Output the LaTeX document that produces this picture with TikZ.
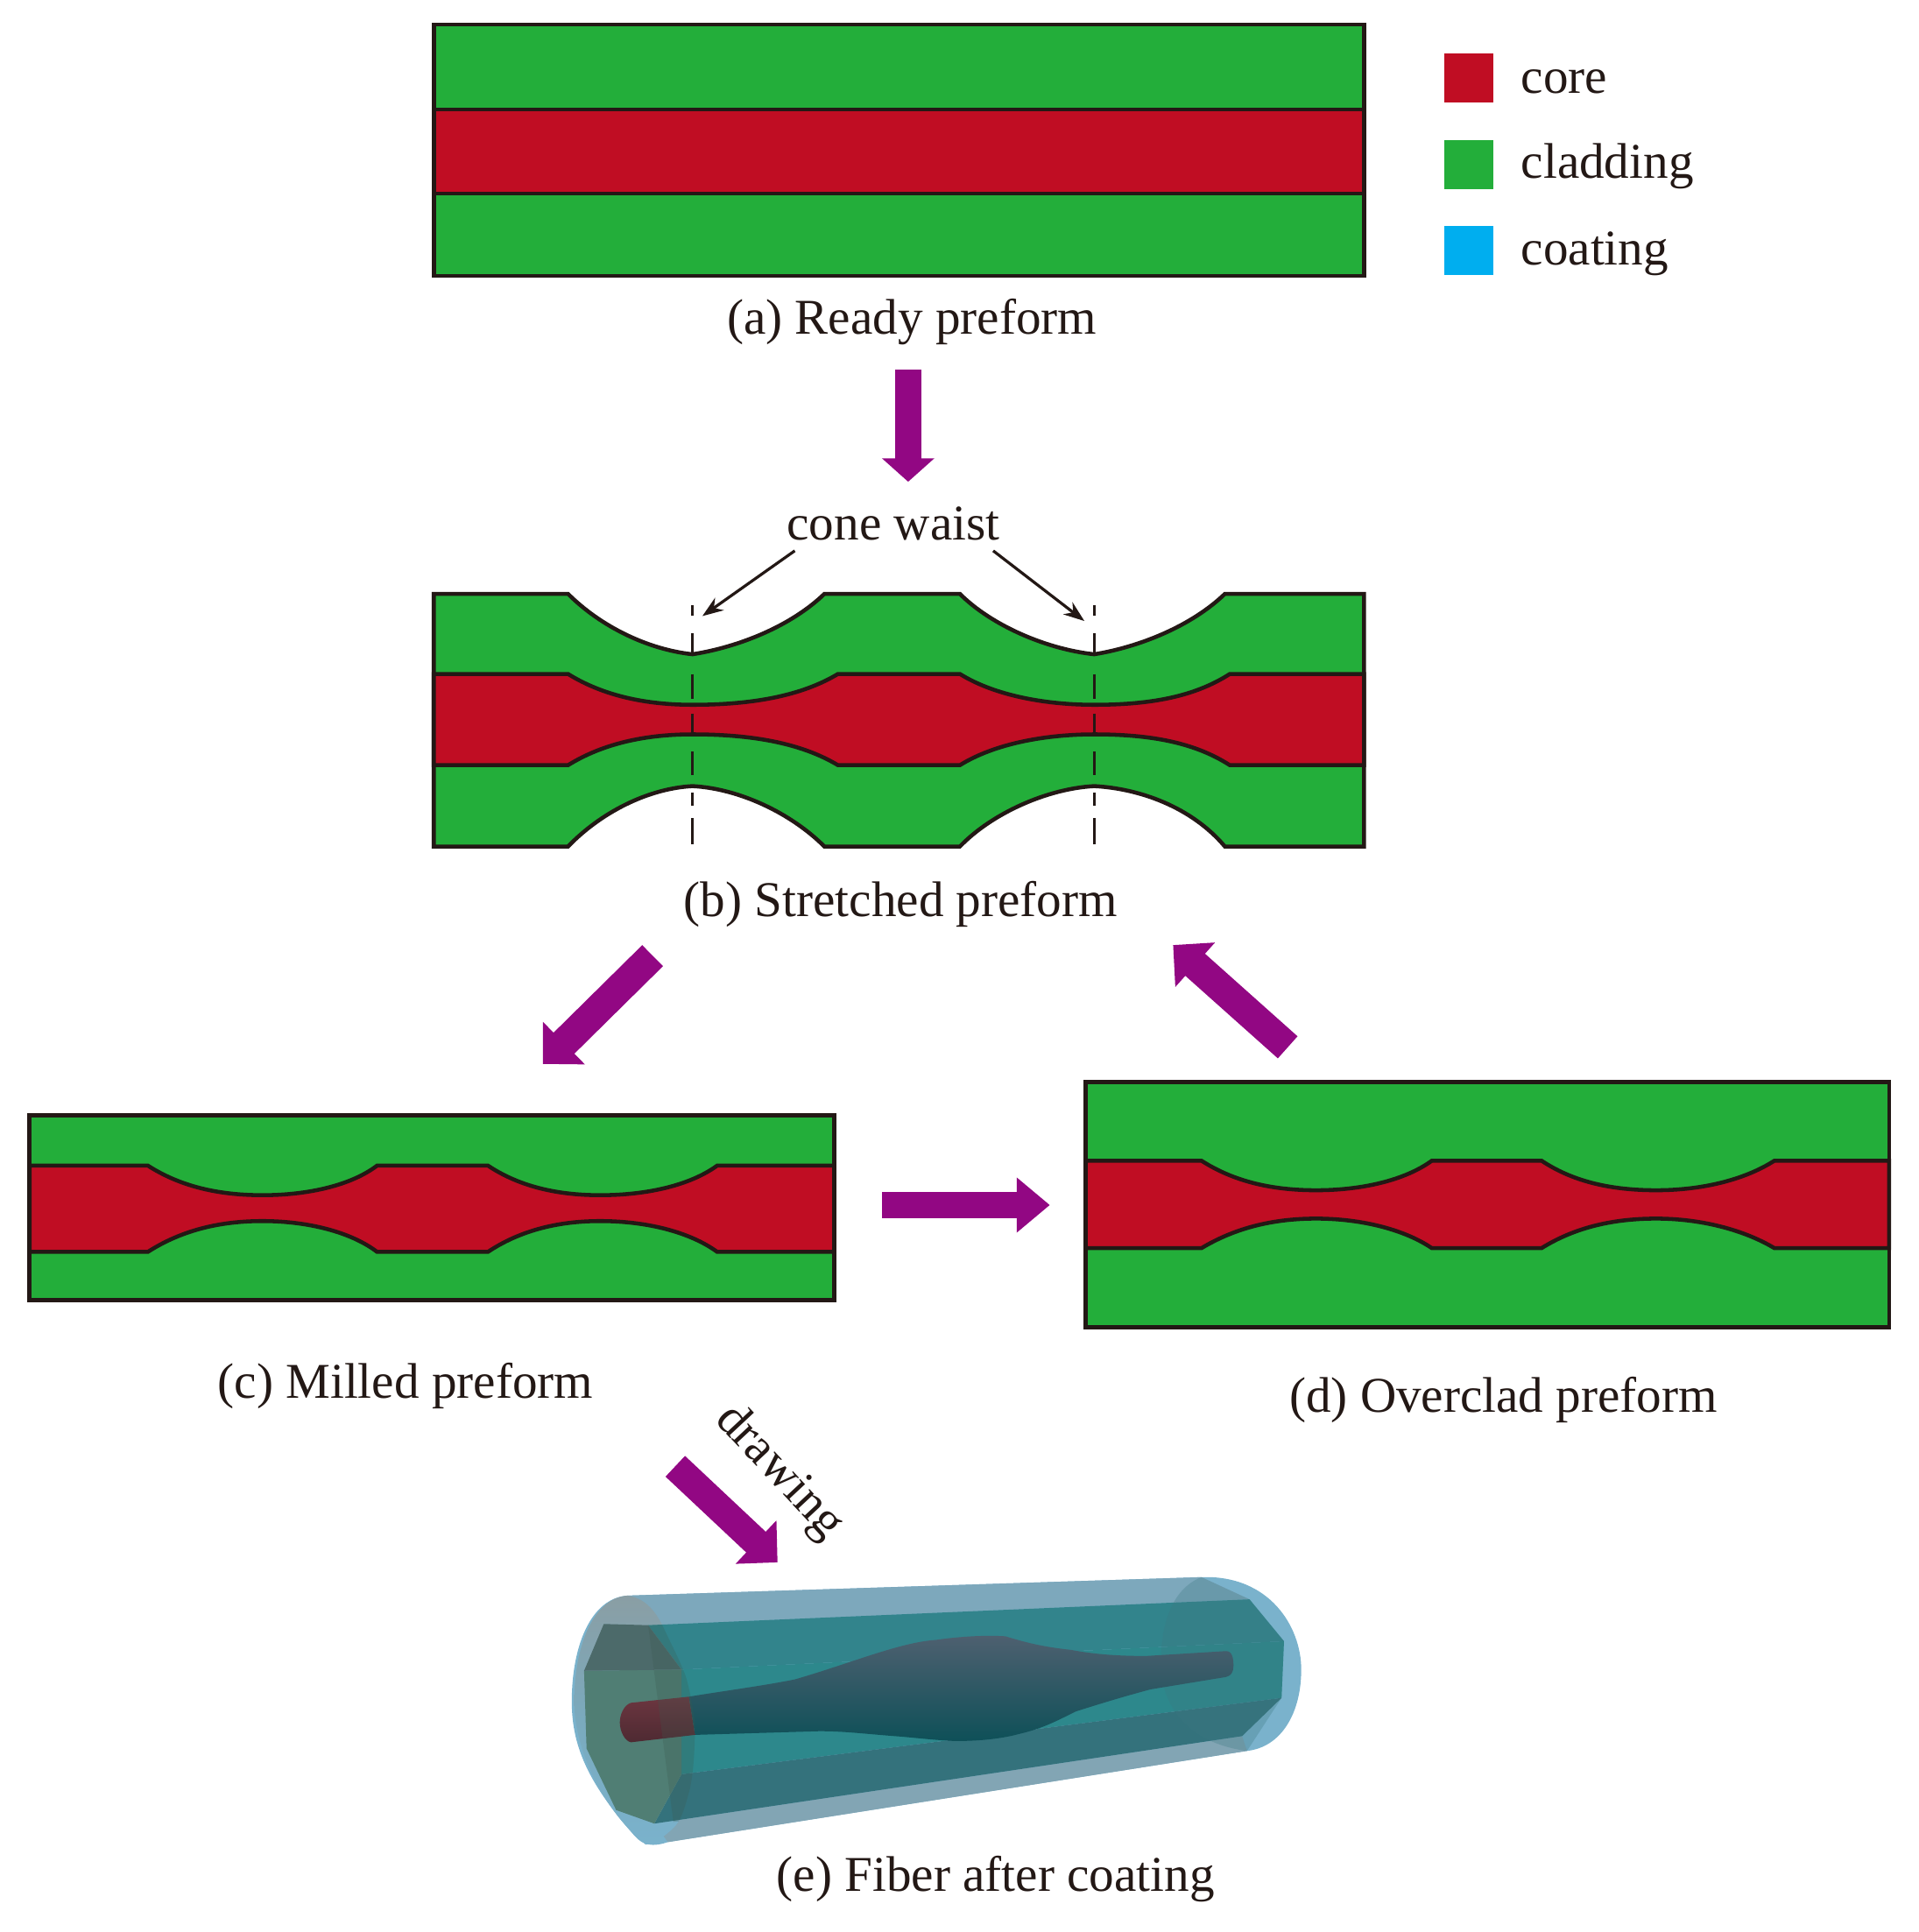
\documentclass[tikz,border=0pt]{standalone}
\usepackage{fontspec}
\setmainfont{Liberation Serif}
\usetikzlibrary{arrows.meta}
\definecolor{coreRed}{HTML}{C00D23}
\definecolor{cladGreen}{HTML}{23AE3A}
\definecolor{coatBlue}{HTML}{00AEEF}
\definecolor{arrowPurple}{HTML}{920783}
\definecolor{inkLine}{HTML}{231815}
\tikzset{
  outline/.style={draw=inkLine,line width=2.1pt,line join=miter},
  thinline/.style={draw=inkLine,line width=1.5pt},
  waistdash/.style={thinline,dash pattern=on 5.85pt off 9.1pt on 11.7pt off 9.75pt on 13pt off 7.8pt on 10.4pt off 9.75pt on 12.35pt off 9.1pt on 7.15pt off 6.5pt on 13.65pt off 9pt},
  blockarrow/.style n args={3}{draw=arrowPurple,line width=#1,-{Triangle[length=#2,width=#3,fill=arrowPurple]}},
  caption/.style={inner sep=0.75pt,text=inkLine,font=\fontsize{26.4}{30}\selectfont},
  swatch/.style={minimum size=26pt,inner sep=0pt},
}
\begin{document}
\begin{tikzpicture}[x=0.65pt,y=0.65pt,yscale=-1,xscale=1]
\useasboundingbox (0,0) rectangle (1557,1568);

%Ready preform
\fill [cladGreen] (352,20) rectangle (1107,224);
\draw [outline,fill=coreRed] (352,89) rectangle (1107,157);
\draw [outline] (352,20) rectangle (1107,224);

%Stretched preform cladding
\draw [outline,fill=cladGreen] (352,482) -- (461,482) .. controls (487,508) and (525,527) .. (562,531) .. controls (600,525) and (642,508) .. (669,482) -- (779,482) .. controls (805,508) and (850,527) .. (888,531) .. controls (925,525) and (967,508) .. (994,482) -- (1107,482) -- (1107,687) -- (994,687) .. controls (967,655) and (925,640) .. (888,638) .. controls (850,640) and (805,660) .. (779,687) -- (669,687) .. controls (642,660) and (600,640) .. (562,638) .. controls (525,640) and (487,660) .. (461,687) -- (352,687) -- cycle ;
%Stretched preform core
\draw [outline,fill=coreRed] (352,547) -- (461,547) .. controls (490,565) and (525,572) .. (562,572) .. controls (610,572) and (650,565) .. (680,547) -- (779,547) .. controls (808,565) and (850,572) .. (888,572) .. controls (935,572) and (970,565) .. (998,547) -- (1107,547) -- (1107,621) -- (998,621) .. controls (970,603) and (935,596) .. (888,596) .. controls (850,596) and (808,603) .. (779,621) -- (680,621) .. controls (650,603) and (610,596) .. (562,596) .. controls (525,596) and (490,603) .. (461,621) -- (352,621) -- cycle ;
%Waist lines
\coordinate (waistTopA) at (562,491);
\coordinate (waistBotA) at (562,685);
\coordinate (waistTopB) at (888,491);
\coordinate (waistBotB) at (888,685);
\draw [waistdash] (waistTopA) -- (waistBotA) ;
\draw [waistdash] (waistTopB) -- (waistBotB) ;

%Milled preform
\fill [cladGreen] (24,905) rectangle (677,1055);
\draw [outline,fill=coreRed] (24,946) -- (120,946) .. controls (145,962) and (175,970) .. (213,970) .. controls (250,970) and (285,962) .. (306,946) -- (396,946) .. controls (420,962) and (450,970) .. (487,970) .. controls (525,970) and (560,962) .. (582,946) -- (677,946) -- (677,1016) -- (582,1016) .. controls (560,1000) and (525,991) .. (487,991) .. controls (450,991) and (420,1000) .. (396,1016) -- (306,1016) .. controls (285,1000) and (250,991) .. (213,991) .. controls (175,991) and (145,1000) .. (120,1016) -- (24,1016) -- cycle ;
\draw [outline] (24,905) rectangle (677,1055);

%Overclad preform
\fill [cladGreen] (881,878) rectangle (1533,1077);
\draw [outline,fill=coreRed] (881,942) -- (975,942) .. controls (1000,958) and (1030,966) .. (1068,966) .. controls (1105,966) and (1140,958) .. (1162,942) -- (1251,942) .. controls (1275,958) and (1305,966) .. (1344,966) .. controls (1380,966) and (1415,958) .. (1440,942) -- (1533,942) -- (1533,1013) -- (1440,1013) .. controls (1415,998) and (1380,989) .. (1344,989) .. controls (1305,989) and (1275,998) .. (1251,1013) -- (1162,1013) .. controls (1140,998) and (1105,989) .. (1068,989) .. controls (1030,989) and (1000,998) .. (975,1013) -- (881,1013) -- cycle ;
\draw [outline] (881,878) rectangle (1533,1077);

%Fiber coating
\fill [color={rgb, 255:red, 122; green, 178; blue, 204 }] (509,1295) -- (975,1280) .. controls (1030,1278) and (1056,1320) .. (1056,1355) .. controls (1056,1390) and (1040,1418) .. (1012,1421) -- (542,1495) .. controls (530,1499) and (522,1498) .. (515,1490) .. controls (480,1450) and (464,1420) .. (464,1381) .. controls (464,1335) and (480,1297) .. (509,1295) -- cycle ;
\fill [color={rgb, 255:red, 125; green, 168; blue, 188 }] (509,1295) -- (975,1280) -- (1014,1298) -- (529,1319) -- cycle ;
\fill [color={rgb, 255:red, 130; green, 165; blue, 180 }] (531,1480) -- (1008,1409) -- (1012,1421) -- (542,1495) -- cycle ;
%Fiber near end
\shade [top color={rgb, 255:red, 138; green, 158; blue, 164 },bottom color={rgb, 255:red, 122; green, 178; blue, 204 },middle color={rgb, 255:red, 122; green, 170; blue, 190 }] (509,1295) .. controls (525,1297) and (533,1310) .. (538,1320) .. controls (545,1335) and (553,1350) .. (557,1362) .. controls (562,1380) and (564,1400) .. (564,1398) .. controls (564,1425) and (562,1445) .. (559,1455) .. controls (555,1470) and (552,1478) .. (547,1483) .. controls (540,1490) and (530,1497) .. (524,1497) .. controls (490,1470) and (466,1420) .. (466,1381) .. controls (466,1335) and (482,1297) .. (509,1295) -- cycle ;
%Fiber cladding faces
\fill [color={rgb, 255:red, 50; green, 132; blue, 140 }] (526,1319) -- (1014,1298) -- (1042,1332) -- (553,1355) -- cycle ;
\fill [color={rgb, 255:red, 45; green, 136; blue, 140 }] (553,1355) -- (1042,1332) -- (1040,1378) -- (553,1440) -- cycle ;
\fill [color={rgb, 255:red, 52; green, 114; blue, 124 }] (553,1440) -- (1040,1378) -- (1008,1409) -- (531,1480) -- cycle ;
%Fiber far end
\fill [color={rgb, 255:red, 60; green, 120; blue, 130 },opacity=0.3] (975,1280) .. controls (950,1290) and (942,1320) .. (942,1350) .. controls (942,1385) and (965,1415) .. (1012,1421) -- (1040,1378) -- (1042,1332) -- (1014,1298) -- cycle ;
%Fiber end polygon
\fill [color={rgb, 255:red, 80; green, 126; blue, 116 }] (474,1356) -- (553,1355) -- (553,1440) -- (531,1480) -- (500,1469) -- (476,1419) -- cycle ;
\fill [color={rgb, 255:red, 76; green, 106; blue, 106 }] (490,1318) -- (526,1319) -- (553,1355) -- (474,1356) -- cycle ;
%Fiber core
\shade [top color={rgb, 255:red, 78; green, 96; blue, 112 },bottom color={rgb, 255:red, 14; green, 80; blue, 88 }] (559,1377) .. controls (590,1372) and (620,1368) .. (645,1363) .. controls (690,1350) and (730,1333) .. (759,1331) .. controls (780,1328) and (800,1327) .. (816,1328) .. controls (835,1334) and (850,1337) .. (869,1339) .. controls (890,1343) and (910,1344) .. (930,1344) -- (995,1340) .. controls (1000,1340) and (1001,1346) .. (1001,1352) .. controls (1001,1357) and (999,1360) .. (995,1361) -- (934,1371) .. controls (915,1376) and (895,1382) .. (873,1389) .. controls (855,1398) and (845,1403) .. (828,1407) .. controls (810,1412) and (790,1413) .. (775,1413) .. controls (755,1412) and (740,1410) .. (726,1409) .. controls (700,1407) and (685,1405) .. (665,1405) -- (564,1408) -- cycle ;
\shade [top color={rgb, 255:red, 108; green, 54; blue, 64 },bottom color={rgb, 255:red, 78; green, 42; blue, 50 }] (559,1377) -- (512,1382) .. controls (506,1384) and (503,1392) .. (503,1398) .. controls (503,1405) and (507,1413) .. (512,1414) -- (564,1408) -- cycle ;
%Fiber near end shadow
\begin{scope}
\clip (509,1295) .. controls (525,1297) and (533,1310) .. (538,1320) .. controls (545,1335) and (553,1350) .. (557,1362) .. controls (562,1380) and (564,1400) .. (564,1398) .. controls (564,1425) and (562,1445) .. (559,1455) .. controls (555,1470) and (552,1478) .. (547,1483) -- (526,1319) -- cycle ;
\fill [color={rgb, 255:red, 60; green, 90; blue, 80 },opacity=0.25] (526,1319) -- (600,1316) -- (600,1474) -- (531,1480) -- cycle ;
\end{scope}

%Process arrows
\coordinate (arrowAfrom) at (737,300);
\coordinate (arrowAto) at (737,391);
\coordinate (arrowBfrom) at (529.6,775.6);
\coordinate (arrowBto) at (440.6,863.5);
\coordinate (arrowCfrom) at (716,978);
\coordinate (arrowCto) at (852,978);
\coordinate (arrowDfrom) at (1045,850);
\coordinate (arrowDto) at (952,767);
\coordinate (arrowEfrom) at (548,1190);
\coordinate (arrowEto) at (631,1268);
\draw [blockarrow={14pt}{12.4pt}{27pt}] (arrowAfrom) -- (arrowAto) ;
\draw [blockarrow={15.6pt}{15.6pt}{30.5pt}] (arrowBfrom) -- (arrowBto) ;
\draw [blockarrow={13.7pt}{17.5pt}{28pt}] (arrowCfrom) -- (arrowCto) ;
\draw [blockarrow={15.6pt}{15.6pt}{30.5pt}] (arrowDfrom) -- (arrowDto) ;
\draw [blockarrow={15pt}{15.6pt}{30.5pt}] (arrowEfrom) -- (arrowEto) ;

%Legend
\draw (1192,63.5) node (swCore) [swatch,fill=coreRed] {};
\draw (1192,133.5) node (swCladding) [swatch,fill=cladGreen] {};
\draw (1192,203.5) node (swCoating) [swatch,fill=coatBlue] {};

% Text Node
\draw (1233,66) node (txtCore) [caption,anchor=west] {core};
% Text Node
\draw (1233,135) node (txtCladding) [caption,anchor=west] {cladding};
% Text Node
\draw (1233,206) node (txtCoating) [caption,anchor=west] {coating};
% Text Node
\draw (740,261.5) node (capA) [caption] {(a) Ready preform};
% Text Node
\draw (725,425) node (txtWaist) [caption] {cone waist};
% Text Node
\draw (731,734) node (capB) [caption] {(b) Stretched preform};
% Text Node
\draw (329,1124.5) node (capC) [caption] {(c) Milled preform};
% Text Node
\draw (1220,1136.5) node (capD) [caption] {(d) Overclad preform};
% Text Node
\draw (632,1195) node (txtDrawing) [caption,rotate=-47] {drawing};
% Text Node
\draw (808,1525) node (capE) [caption] {(e) Fiber after coating};

%Cone waist pointers
\coordinate (pointA) at (570,500);
\coordinate (pointB) at (880,504);
\coordinate (waistFromA) at (645,447);
\coordinate (waistFromB) at (806,447);
\draw [thinline,-{Stealth[length=11pt,width=8pt]}] (waistFromA) -- (pointA) ;
\draw [thinline,-{Stealth[length=11pt,width=8pt]}] (waistFromB) -- (pointB) ;

\end{tikzpicture}
\end{document}
